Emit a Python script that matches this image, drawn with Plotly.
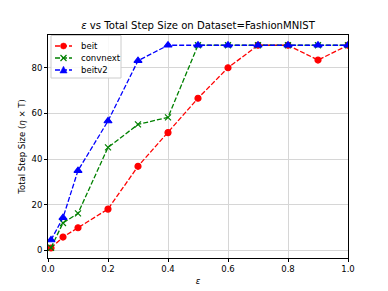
import plotly.graph_objects as go

eps = [0.01, 0.05, 0.1, 0.2, 0.3, 0.4, 0.5, 0.6, 0.7, 0.8, 0.9, 1.0]
beit = [0.9, 5.7, 9.8, 18.0, 36.8, 51.6, 66.7, 80.1, 90, 90, 83.5, 90]
convnext = [1.0, 11.9, 16.1, 45.1, 55.2, 58.3, 90, 90, 90, 90, 90, 90]
beitv2 = [4.4, 14.2, 34.9, 56.7, 83.2, 90, 90, 90, 90, 90, 90, 90]

names = ["beit", "convnext", "beitv2"]
x_ticks = [0.0, 0.2, 0.4, 0.6, 0.8, 1.0]
y_ticks = [0, 20, 40, 60, 80]

font = "DejaVu Sans"
W, H = 388, 291
ML, MR, MT, MB = 48, 40, 35, 33

fig = go.Figure()
styles = [
    ("red", "circle", 6),
    ("green", "x-thin-open", 6),
    ("blue", "triangle-up", 7),
]
for name, ys, (color, sym, sz) in zip(names, [beit, convnext, beitv2], styles):
    fig.add_trace(go.Scatter(
        x=eps, y=ys, name=name, mode="lines+markers", showlegend=False,
        line=dict(color=color, width=1.3, dash="5px,2px"),
        marker=dict(symbol=sym, size=sz, color=color,
                    line=dict(color=color, width=1.2)),
    ))

axis_common = dict(
    showline=True, linecolor="black", linewidth=1, mirror=True,
    showgrid=True, gridcolor="#d6d6d6", gridwidth=1,
    ticks="outside", ticklen=3, tickcolor="black", tickwidth=1,
    zeroline=False, automargin=False,
    tickfont=dict(family=font, size=8.5, color="black"),
)
fig.update_xaxes(range=[0, 1], tickvals=x_ticks, tickformat=".1f",
                 title=dict(text="<i>ε</i>", font=dict(family=font, size=8.5, color="black"), standoff=4),
                 **axis_common)
fig.update_yaxes(range=[-3.5, 94.5], tickvals=y_ticks,
                 title=dict(text="Total Step Size (<i>η</i> × T)", font=dict(family=font, size=8.5, color="black"), standoff=4),
                 **axis_common)

# overlay axes in figure-pixel units, used only to place the legend box
fig.update_layout(
    xaxis2=dict(overlaying="x", range=[ML, W - MR], visible=False, fixedrange=True),
    yaxis2=dict(overlaying="y", range=[H - MB, MT], visible=False, fixedrange=True),
)
lx0, lx1, ly0, ly1 = 51, 121, 35.5, 78
fig.add_shape(type="rect", xref="x2", yref="y2", x0=lx0, x1=lx1, y0=ly0, y1=ly1,
              line=dict(color="#cccccc", width=1), fillcolor="rgba(255,255,255,0.85)", layer="above")
rows = [46, 58, 70]
mx = 63.5
for name, (color, sym, sz), ry in zip(names, styles, rows):
    fig.add_shape(type="line", xref="x2", yref="y2", x0=55, x1=72, y0=ry, y1=ry,
                  line=dict(color=color, width=1.3, dash="5px,2px"), layer="above")
    if sym == "circle":
        fig.add_shape(type="circle", xref="x2", yref="y2", x0=mx - 3, x1=mx + 3,
                      y0=ry - 3, y1=ry + 3, line=dict(color=color, width=0.5),
                      fillcolor=color, layer="above")
    elif sym.startswith("x"):
        fig.add_shape(type="path", xref="x2", yref="y2",
                      path=f"M{mx-3},{ry-3} L{mx+3},{ry+3} M{mx-3},{ry+3} L{mx+3},{ry-3}",
                      line=dict(color=color, width=1.2), layer="above")
    else:
        fig.add_shape(type="path", xref="x2", yref="y2",
                      path=f"M{mx},{ry-3.8} L{mx+3.6},{ry+3} L{mx-3.6},{ry+3} Z",
                      line=dict(color=color, width=0.5), fillcolor=color, layer="above")
    fig.add_annotation(x=79, y=ry, xref="x2", yref="y2", text=name, showarrow=False,
                       xanchor="left", yanchor="middle",
                       font=dict(family=font, size=8.5, color="black"))

fig.update_layout(
    width=W, height=H,
    margin=dict(l=ML, r=MR, t=MT, b=MB),
    paper_bgcolor="white", plot_bgcolor="white",
    title=dict(text="<i>ε</i> vs Total Step Size on Dataset=FashionMNIST",
               font=dict(family=font, size=10.1, color="black"),
               x=0.5, xref="paper", xanchor="center", y=1 - 25 / H, yanchor="middle"),
    showlegend=False,
)

fig.write_html("out.html", config={"displayModeBar": False},
               post_script="document.body.style.margin='0';document.body.style.overflow='hidden';")
